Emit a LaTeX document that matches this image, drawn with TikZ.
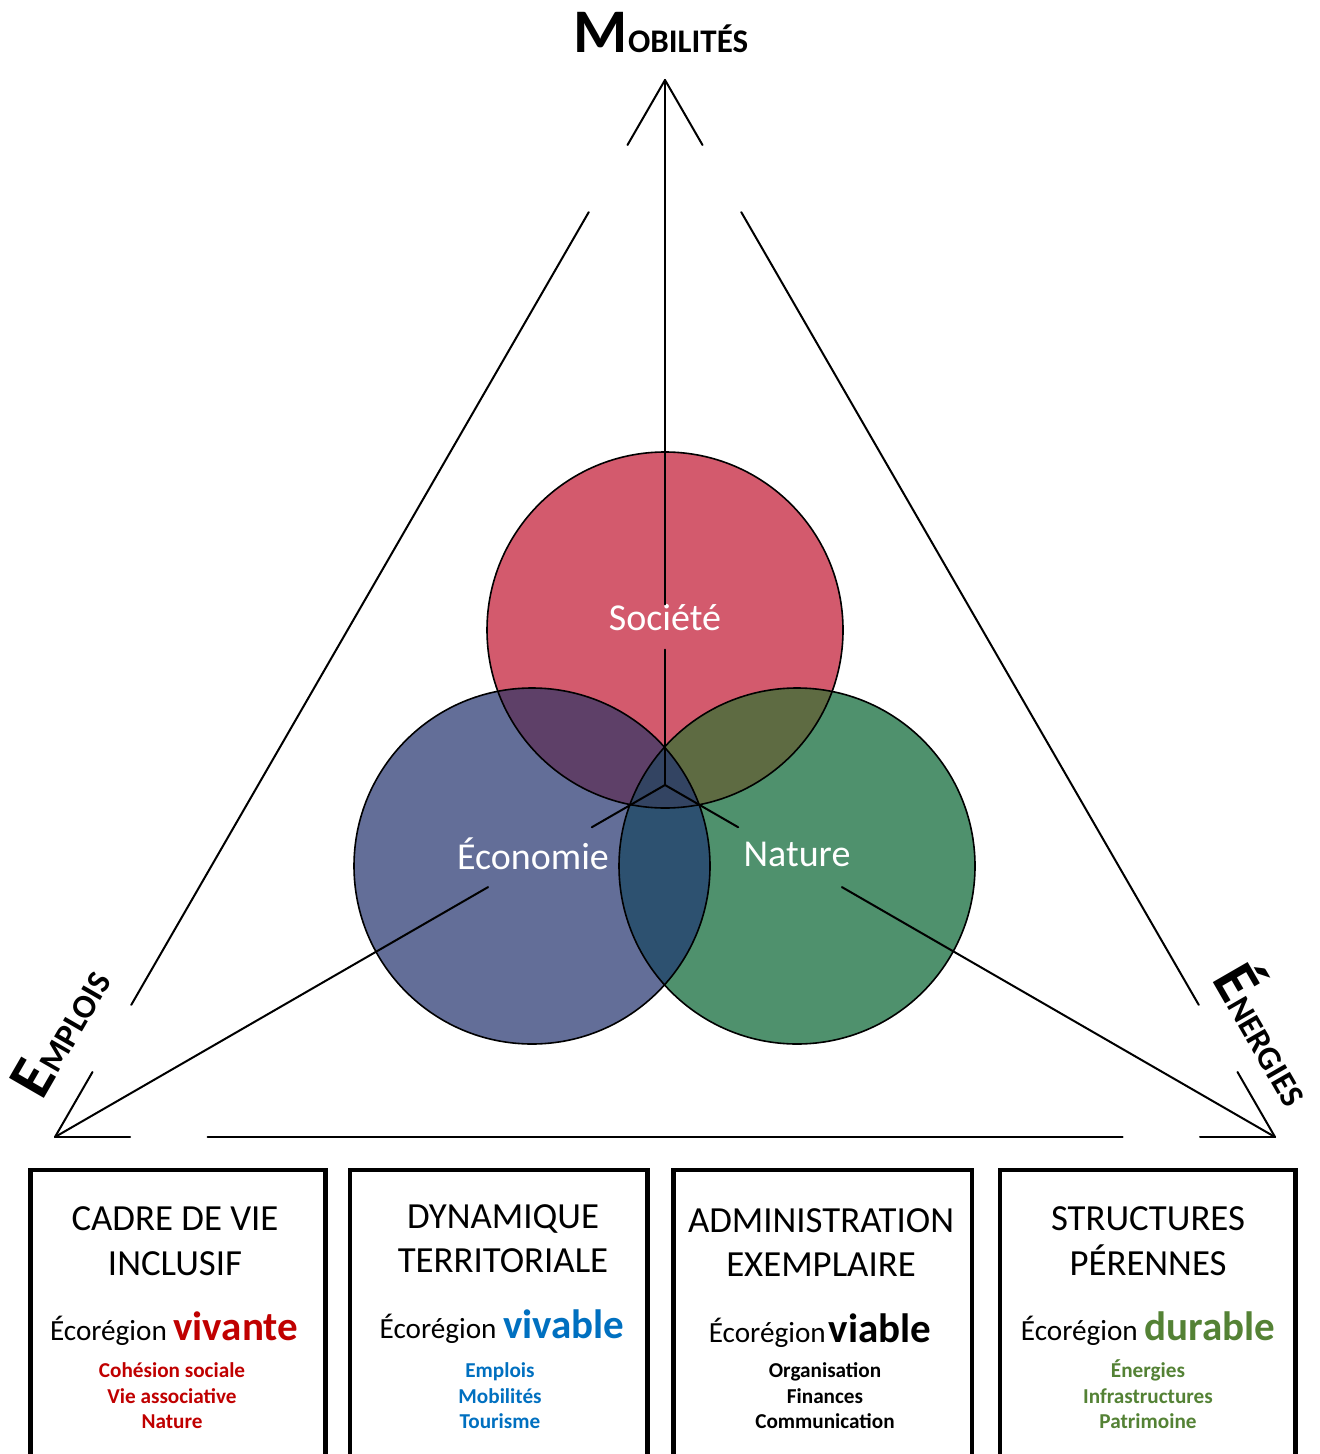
\documentclass[tikz,border=0pt]{standalone}
\usepackage{fontspec}
\setmainfont{Carlito}
\usetikzlibrary{calc}
\definecolor{cS}{HTML}{D35A6D}
\definecolor{cE}{HTML}{636E98}
\definecolor{cN}{HTML}{4F916D}
\definecolor{cSE}{HTML}{5E4068}
\definecolor{cSN}{HTML}{5E6B42}
\definecolor{cEN}{HTML}{2D5170}
\definecolor{cSEN}{HTML}{334462}
\definecolor{tred}{HTML}{C00000}
\definecolor{tblue}{HTML}{0070C0}
\definecolor{tgreen}{HTML}{548235}
\begin{document}
\begin{tikzpicture}[x=0.5pt,y=-0.5pt,line cap=round,
  tri/.style={line width=1pt,black},
  ring/.style={line width=0.8pt,black},
  boxline/.style={line width=2.4pt,black,line cap=butt},
  circlabel/.style={text=white,font=\fontsize{19}{19}\selectfont,inner sep=0pt},
  title/.style={anchor=base,inner sep=0pt,font=\fontsize{18.4}{18.4}\selectfont},
  eco/.style={anchor=base,inner sep=0pt,font=\fontsize{14.6}{14.6}\selectfont},
  sub/.style={anchor=base,inner sep=0pt,font=\bfseries\fontsize{10.6}{10.6}\selectfont}
]
\useasboundingbox (0,0) rectangle (1319,1454);
\clip (0,0) rectangle (1319,1454);
\fill[white] (0,0) rectangle (1319,1454);

% key points
\coordinate (T) at (665,80);
\coordinate (BL) at (55,1137);
\coordinate (BR) at (1275,1137);
\coordinate (C) at (665,785);
\coordinate (S) at (665,630);
\coordinate (E) at (532,866);
\coordinate (N) at (797,866);

% circles
\fill[cS] (S) circle (178);
\fill[cE] (E) circle (178);
\fill[cN] (N) circle (178);
\begin{scope}
  \clip (S) circle (178);
  \fill[cSE] (E) circle (178);
  \fill[cSN] (N) circle (178);
\end{scope}
\begin{scope}
  \clip (E) circle (178);
  \fill[cEN] (N) circle (178);
\end{scope}
\begin{scope}
  \clip (S) circle (178);
  \clip (E) circle (178);
  \fill[cSEN] (N) circle (178);
\end{scope}
\draw[ring] (S) circle (178);
\draw[ring] (E) circle (178);
\draw[ring] (N) circle (178);

% circle labels
\node[circlabel] (soc) at (665,618) {Société};
\node[circlabel] (eco) at (533,854) {Économie};
\node[circlabel] (nat) at (797,854) {Nature};

% axes
\draw[tri] (T) -- (soc.north);
\draw[tri] (soc.south) ++(0,18) coordinate (s2) (s2) -- (C);
\coordinate (e1) at ($(C)!0.12!(BL)$);
\coordinate (e2) at ($(C)!0.29!(BL)$);
\coordinate (n1) at ($(C)!0.12!(BR)$);
\coordinate (n2) at ($(C)!0.29!(BR)$);
\draw[tri] (C) -- (e1);
\draw[tri] (e2) -- (BL);
\draw[tri] (C) -- (n1);
\draw[tri] (n2) -- (BR);

% outer triangle with gaps
\foreach \a/\b in {BL/T, T/BR, BL/BR}{
  \draw[tri] (\a) -- ($(\a)!0.0615!(\b)$);
  \draw[tri] ($(\a)!0.125!(\b)$) -- ($(\a)!0.875!(\b)$);
  \draw[tri] ($(\a)!0.9385!(\b)$) -- (\b);
}

% axis titles
\node[anchor=base,inner sep=0pt] (mob) at (661,53)
  {\bfseries\fontsize{31}{31}\selectfont M\fontsize{16.5}{16.5}\selectfont OBILITÉS};
\node[inner sep=0pt,rotate=60] (emp) at (60,1031)
  {\bfseries\fontsize{31}{31}\selectfont E\fontsize{16.8}{16.8}\selectfont MPLOIS};
\node[inner sep=0pt,rotate=-60] (ene) at (1271,1031)
  {\bfseries\fontsize{31}{31}\selectfont É\fontsize{16.8}{16.8}\selectfont NERGIES};

% boxes
\draw[boxline] (30.5,1170) rectangle (325.5,1490);
\draw[boxline] (350,1170) rectangle (647.5,1490);
\draw[boxline] (673.5,1170) rectangle (972,1490);
\draw[boxline] (1000,1170) rectangle (1295.5,1490);

% box 1
\node[title] (b1t1) at (175,1230) {CADRE DE VIE};
\node[title] (b1t2) at (175,1275) {INCLUSIF};
\node[eco] (b1e) at (174,1340) {Écorégion {\bfseries\fontsize{20.5}{20.5}\selectfont\color{tred}vivante}};
\node[sub,text=tred] (b1s1) at (172,1377) {Cohésion sociale};
\node[sub,text=tred] (b1s2) at (172,1403) {Vie associative};
\node[sub,text=tred] (b1s3) at (172,1428) {Nature};

% box 2
\node[title] (b2t1) at (503,1228) {DYNAMIQUE};
\node[title] (b2t2) at (503,1272) {TERRITORIALE};
\node[eco] (b2e) at (502,1338) {Écorégion {\bfseries\fontsize{20.5}{20.5}\selectfont\color{tblue}vivable}};
\node[sub,text=tblue] (b2s1) at (500,1377) {Emplois};
\node[sub,text=tblue] (b2s2) at (500,1403) {Mobilités};
\node[sub,text=tblue] (b2s3) at (500,1428) {Tourisme};

% box 3
\node[title] (b3t1) at (821,1232) {ADMINISTRATION};
\node[title] (b3t2) at (821,1276) {EXEMPLAIRE};
\node[eco] (b3e) at (820,1342) {Écorégion\hspace{1.5pt}{\bfseries\fontsize{20.5}{20.5}\selectfont viable}};
\node[sub] (b3s1) at (825,1377) {Organisation};
\node[sub] (b3s2) at (825,1403) {Finances};
\node[sub] (b3s3) at (825,1428) {Communication};

% box 4
\node[title] (b4t1) at (1148,1230) {STRUCTURES};
\node[title] (b4t2) at (1148,1275) {PÉRENNES};
\node[eco] (b4e) at (1148,1340) {Écorégion {\bfseries\fontsize{20.5}{20.5}\selectfont\color{tgreen}durable}};
\node[sub,text=tgreen] (b4s1) at (1148,1377) {Énergies};
\node[sub,text=tgreen] (b4s2) at (1148,1403) {Infrastructures};
\node[sub,text=tgreen] (b4s3) at (1148,1428) {Patrimoine};
\end{tikzpicture}
\end{document}
